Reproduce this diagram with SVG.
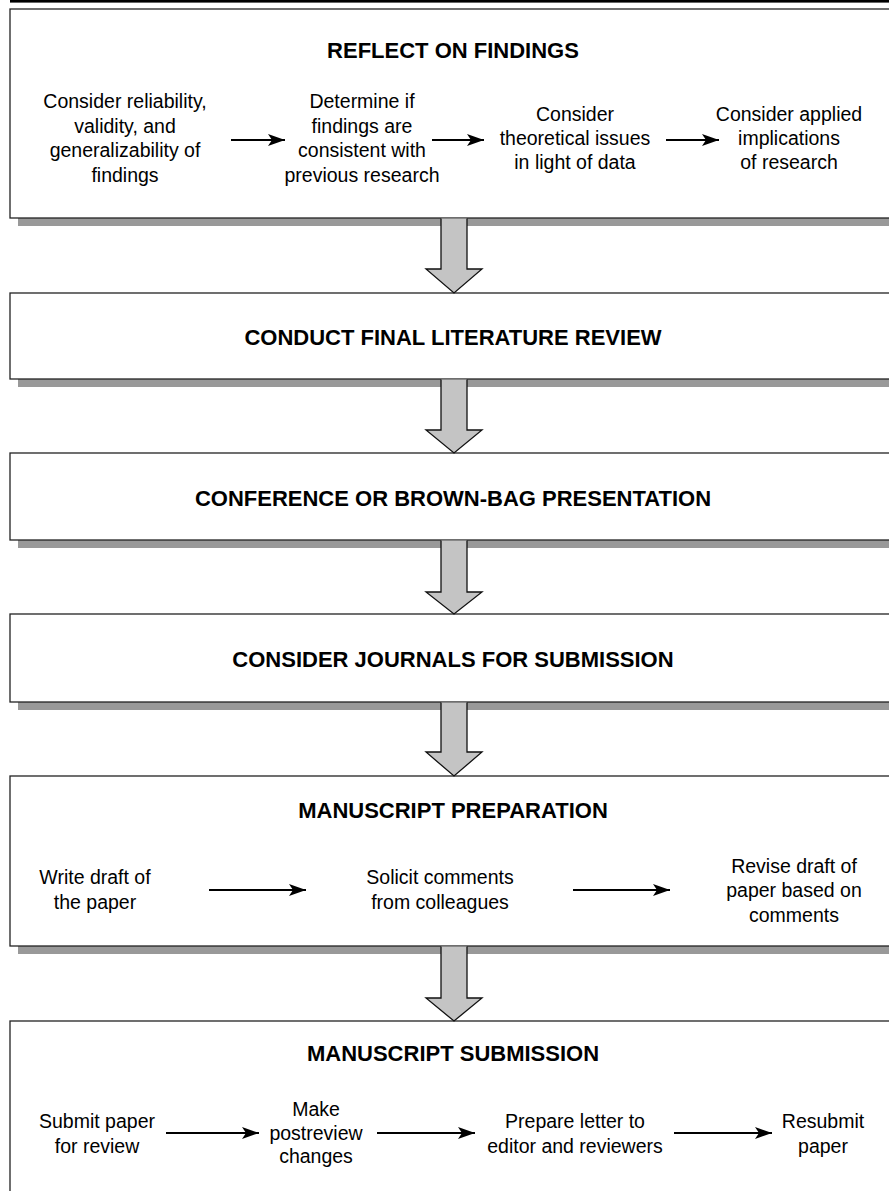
<svg xmlns="http://www.w3.org/2000/svg" width="889" height="1191" viewBox="0 0 889 1191">
<style>
.shadow{fill:#999999;}
.box{fill:#ffffff;stroke:#222222;stroke-width:1.3;}
.title{font-family:"Liberation Sans",Arial,sans-serif;font-weight:bold;font-size:22px;fill:#000;text-anchor:middle;}
.body{font-family:"Liberation Sans",Arial,sans-serif;font-size:19.5px;fill:#000;text-anchor:middle;}
.flow{fill:#c4c4c4;stroke:#111111;stroke-width:1.3;stroke-linejoin:miter;}
.conn{stroke:#000;stroke-width:2;fill:none;marker-end:url(#ah);}
</style>
<defs>
<marker id="ah" markerUnits="userSpaceOnUse" markerWidth="18" markerHeight="14" refX="17" refY="6.5" orient="auto">
<path d="M0,0.5 L17,6.5 L0,12.5 L4,6.5 z" fill="#000"/>
</marker>
</defs>
<rect x="0" y="0" width="889" height="1191" fill="#ffffff"/>
<rect x="10" y="0" width="890" height="2.6" fill="#000"/>

<g id="node-reflect">
<rect class="shadow" x="18" y="17" width="900" height="209"/>
<rect class="box" x="10" y="9" width="900" height="209"/>
<text class="title" x="453" y="58">REFLECT ON FINDINGS</text>
<text class="body" x="125" y="108">Consider reliability,</text>
<text class="body" x="125" y="133">validity, and</text>
<text class="body" x="125" y="157">generalizability of</text>
<text class="body" x="125" y="182">findings</text>
<text class="body" x="362" y="108">Determine if</text>
<text class="body" x="362" y="133">findings are</text>
<text class="body" x="362" y="157">consistent with</text>
<text class="body" x="362" y="182">previous research</text>
<text class="body" x="575" y="121">Consider</text>
<text class="body" x="575" y="145">theoretical issues</text>
<text class="body" x="575" y="169">in light of data</text>
<text class="body" x="789" y="121">Consider applied</text>
<text class="body" x="789" y="145">implications</text>
<text class="body" x="789" y="169">of research</text>
</g>

<g id="node-literature">
<rect class="shadow" x="18" y="301" width="900" height="86"/>
<rect class="box" x="10" y="293" width="900" height="86"/>
<text class="title" x="453" y="345">CONDUCT FINAL LITERATURE REVIEW</text>
</g>

<g id="node-conference">
<rect class="shadow" x="18" y="461" width="900" height="87"/>
<rect class="box" x="10" y="453" width="900" height="87"/>
<text class="title" x="453" y="506">CONFERENCE OR BROWN-BAG PRESENTATION</text>
</g>

<g id="node-journals">
<rect class="shadow" x="18" y="622" width="900" height="88"/>
<rect class="box" x="10" y="614" width="900" height="88"/>
<text class="title" x="453" y="667">CONSIDER JOURNALS FOR SUBMISSION</text>
</g>

<g id="node-preparation">
<rect class="shadow" x="18" y="784" width="900" height="170"/>
<rect class="box" x="10" y="776" width="900" height="170"/>
<text class="title" x="453" y="818">MANUSCRIPT PREPARATION</text>
<text class="body" x="95" y="884">Write draft of</text>
<text class="body" x="95" y="909">the paper</text>
<text class="body" x="440" y="884">Solicit comments</text>
<text class="body" x="440" y="909">from colleagues</text>
<text class="body" x="794" y="873">Revise draft of</text>
<text class="body" x="794" y="897">paper based on</text>
<text class="body" x="794" y="922">comments</text>
</g>

<g id="node-submission">
<rect class="shadow" x="18" y="1029" width="900" height="200"/>
<rect class="box" x="10" y="1021" width="900" height="200"/>
<text class="title" x="453" y="1061">MANUSCRIPT SUBMISSION</text>
<text class="body" x="97" y="1128">Submit paper</text>
<text class="body" x="97" y="1153">for review</text>
<text class="body" x="316" y="1116">Make</text>
<text class="body" x="316" y="1140">postreview</text>
<text class="body" x="316" y="1163">changes</text>
<text class="body" x="575" y="1128">Prepare letter to</text>
<text class="body" x="575" y="1153">editor and reviewers</text>
<text class="body" x="823" y="1128">Resubmit</text>
<text class="body" x="823" y="1153">paper</text>
</g>

<g id="connectors">
<path class="flow" d="M441,218.6 V269 H426 L454,293 L482,269 H467 V218.6"/>
<path class="flow" d="M441,379.6 V430 H426 L454,453 L482,430 H467 V379.6"/>
<path class="flow" d="M441,540.6 V592 H426 L454,614 L482,592 H467 V540.6"/>
<path class="flow" d="M441,702.6 V752 H426 L454,776 L482,752 H467 V702.6"/>
<path class="flow" d="M441,946.6 V998 H426 L454,1021 L482,998 H467 V946.6"/>
<line class="conn" x1="231" y1="140" x2="285" y2="140"/>
<line class="conn" x1="432" y1="140" x2="484" y2="140"/>
<line class="conn" x1="666" y1="140" x2="719" y2="140"/>
<line class="conn" x1="209" y1="890" x2="306" y2="890"/>
<line class="conn" x1="573" y1="890" x2="670" y2="890"/>
<line class="conn" x1="166" y1="1133" x2="259" y2="1133"/>
<line class="conn" x1="377" y1="1133" x2="475" y2="1133"/>
<line class="conn" x1="674" y1="1133" x2="772" y2="1133"/>
</g>
</svg>
